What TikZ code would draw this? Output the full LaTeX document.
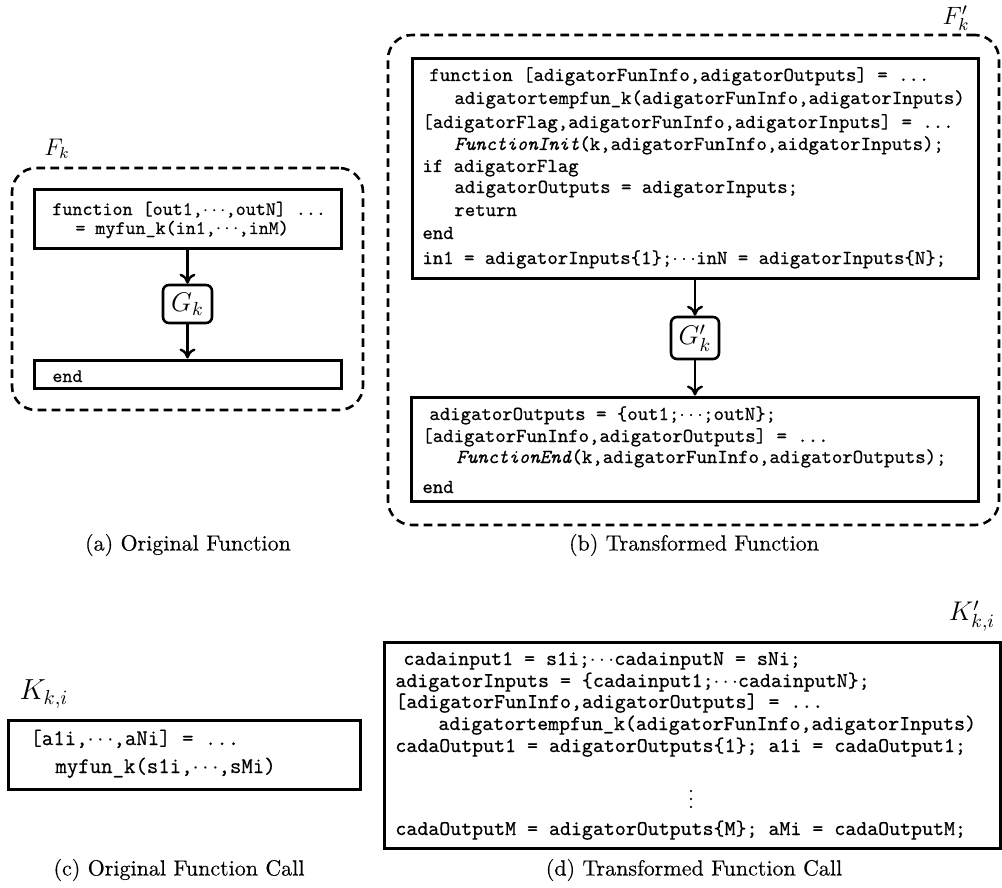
\RequirePackage{fix-cm}
\documentclass[tikz,border=0pt]{standalone}
\usepackage{fontspec}
\setmainfont{Latin Modern Roman}[FakeBold=0.35]
\setmonofont{Latin Modern Mono}[FakeBold=0.5]
\usetikzlibrary{arrows.meta,fit}
\tikzset{
  cbox/.style={draw, line width=1.5pt, inner sep=0pt},
  gbox/.style={draw, line width=1.3pt, rounded corners=3pt, inner sep=0pt},
  dbox/.style={draw, line width=1.3pt, dash pattern=on 4.3pt off 2.7pt, rounded corners=12pt, inner sep=0pt},
  flow/.style={line width=1.2pt, -{To[length=5pt,width=8pt]}},
  ln/.style={anchor=base west, inner sep=0pt},
  codeA/.style={ln, font=\fontsize{9.55}{11}\selectfont\ttfamily},
  codeB/.style={ln, font=\fontsize{9.92}{11}\selectfont\ttfamily},
  codeC/.style={ln, font=\fontsize{11.1}{13}\selectfont\ttfamily},
  codeD/.style={ln, font=\fontsize{10.45}{12}\selectfont\ttfamily},
  captxt/.style={inner sep=0pt, font=\fontsize{11}{13}\selectfont},
  lab/.style={inner sep=0pt}
}
\begin{document}
\begin{tikzpicture}[x=0.5pt,y=-0.5pt]
\useasboundingbox (0,0) rectangle (1002,888);

% ---------- (a) Original Function ----------
\node[dbox, fit={(12,168) (363,410)}] (fa) {};
\node[lab, font=\fontsize{12}{14}\selectfont] (fal) at (57,149) {$F_k$};
\node[cbox, fit={(34,190) (341,248)}] (a1) {};
\node[codeA] (a1l1) at (52,215) {function [out1,$\cdots$,outN] ...};
\node[codeA] (a1l2) at (75,234) {= myfun\_k(in1,$\cdots$,inM)};
\node[gbox, fit={(163,285) (212,323)}] (ga) {};
\node[lab, font=\fontsize{13.5}{15}\selectfont] (gal) at (ga.center) {$G_k$};
\node[cbox, fit={(34,360) (341,388)}] (a3) {};
\node[codeA] (a3l1) at (52,382) {end};
\draw[flow] (a1.south) -- (ga.north);
\draw[flow] (ga.south) -- (a3.north);
\node[captxt] (capa) at (188,545) {(a) Original Function};

% ---------- (b) Transformed Function ----------
\node[dbox, fit={(388,35) (999,525)}] (fb) {};
\node[lab, font=\fontsize{12.5}{14}\selectfont] (fbl) at (956,18) {$F'_k$};
\node[cbox, fit={(412,59) (978,278)}] (b1) {};
\node[codeB] (b1l1) at (429,81) {function [adigatorFunInfo,adigatorOutputs] = ...};
\node[codeB] (b1l2) at (454,104) {adigatortempfun\_k(adigatorFunInfo,adigatorInputs)};
\node[codeB] (b1l3) at (422,128) {[adigatorFlag,adigatorFunInfo,adigatorInputs] = ...};
\node[codeB] (b1l4) at (454,150) {\textit{FunctionInit}(k,adigatorFunInfo,aidgatorInputs);};
\node[codeB] (b1l5) at (422,172) {if adigatorFlag};
\node[codeB] (b1l6) at (454,193) {adigatorOutputs = adigatorInputs;};
\node[codeB] (b1l7) at (454,216) {return};
\node[codeB] (b1l8) at (422,239) {end};
\node[codeB] (b1l9) at (422,264) {in1 = adigatorInputs\{1\};$\cdots$inN = adigatorInputs\{N\};};
\node[gbox, fit={(671,317) (719,359)}] (gb) {};
\node[lab, font=\fontsize{13.5}{15}\selectfont] (gbl) at (gb.center) {$G'_k$};
\node[cbox, fit={(411,397) (978,501)}] (b3) {};
\node[codeB] (b3l1) at (429,420) {adigatorOutputs = \{out1;$\cdots$;outN\};};
\node[codeB] (b3l2) at (422,442) {[adigatorFunInfo,adigatorOutputs] = ...};
\node[codeB] (b3l3) at (456,463) {\textit{FunctionEnd}(k,adigatorFunInfo,adigatorOutputs);};
\node[codeB] (b3l4) at (422,493) {end};
\draw[flow] (b1.south) -- (gb.north);
\draw[flow] (gb.south) -- (gb.south |- b3.north);
\node[captxt] (capb) at (694,545) {(b) Transformed Function};

% ---------- (c) Original Function Call ----------
\node[lab, font=\fontsize{14.5}{16}\selectfont] (kl) at (44,694) {$K_{k,i}$};
\node[cbox, fit={(8,720) (360,789)}] (c1) {};
\node[codeC] (c1l1) at (30,745) {[a1i,$\cdots$,aNi] = ...};
\node[codeC] (c1l2) at (55,773) {myfun\_k(s1i,$\cdots$,sMi)};
\node[captxt] (capc) at (179,870) {(c) Original Function Call};

% ---------- (d) Transformed Function Call ----------
\node[lab, font=\fontsize{13.5}{15}\selectfont] (kpl) at (972,616) {$K'_{k,i}$};
\node[cbox, fit={(384,642) (1000,848)}] (d1) {};
\node[codeD] (d1l1) at (403,665) {cadainput1 = s1i;$\cdots$cadainputN = sNi;};
\node[codeD] (d1l2) at (395,687) {adigatorInputs = \{cadainput1;$\cdots$cadainputN\};};
\node[codeD] (d1l3) at (395,708) {[adigatorFunInfo,adigatorOutputs] = ...};
\node[codeD] (d1l4) at (438,730) {adigatortempfun\_k(adigatorFunInfo,adigatorInputs)};
\node[codeD] (d1l5) at (395,752) {cadaOutput1 = adigatorOutputs\{1\}; a1i = cadaOutput1;};
\node[lab, font=\fontsize{10.45}{12}\selectfont] (d1v) at (691,793) {$\vdots$};
\node[codeD] (d1l6) at (395,835) {cadaOutputM = adigatorOutputs\{M\}; aMi = cadaOutputM;};
\node[captxt] (capd) at (694,870) {(d) Transformed Function Call};
\end{tikzpicture}
\end{document}
